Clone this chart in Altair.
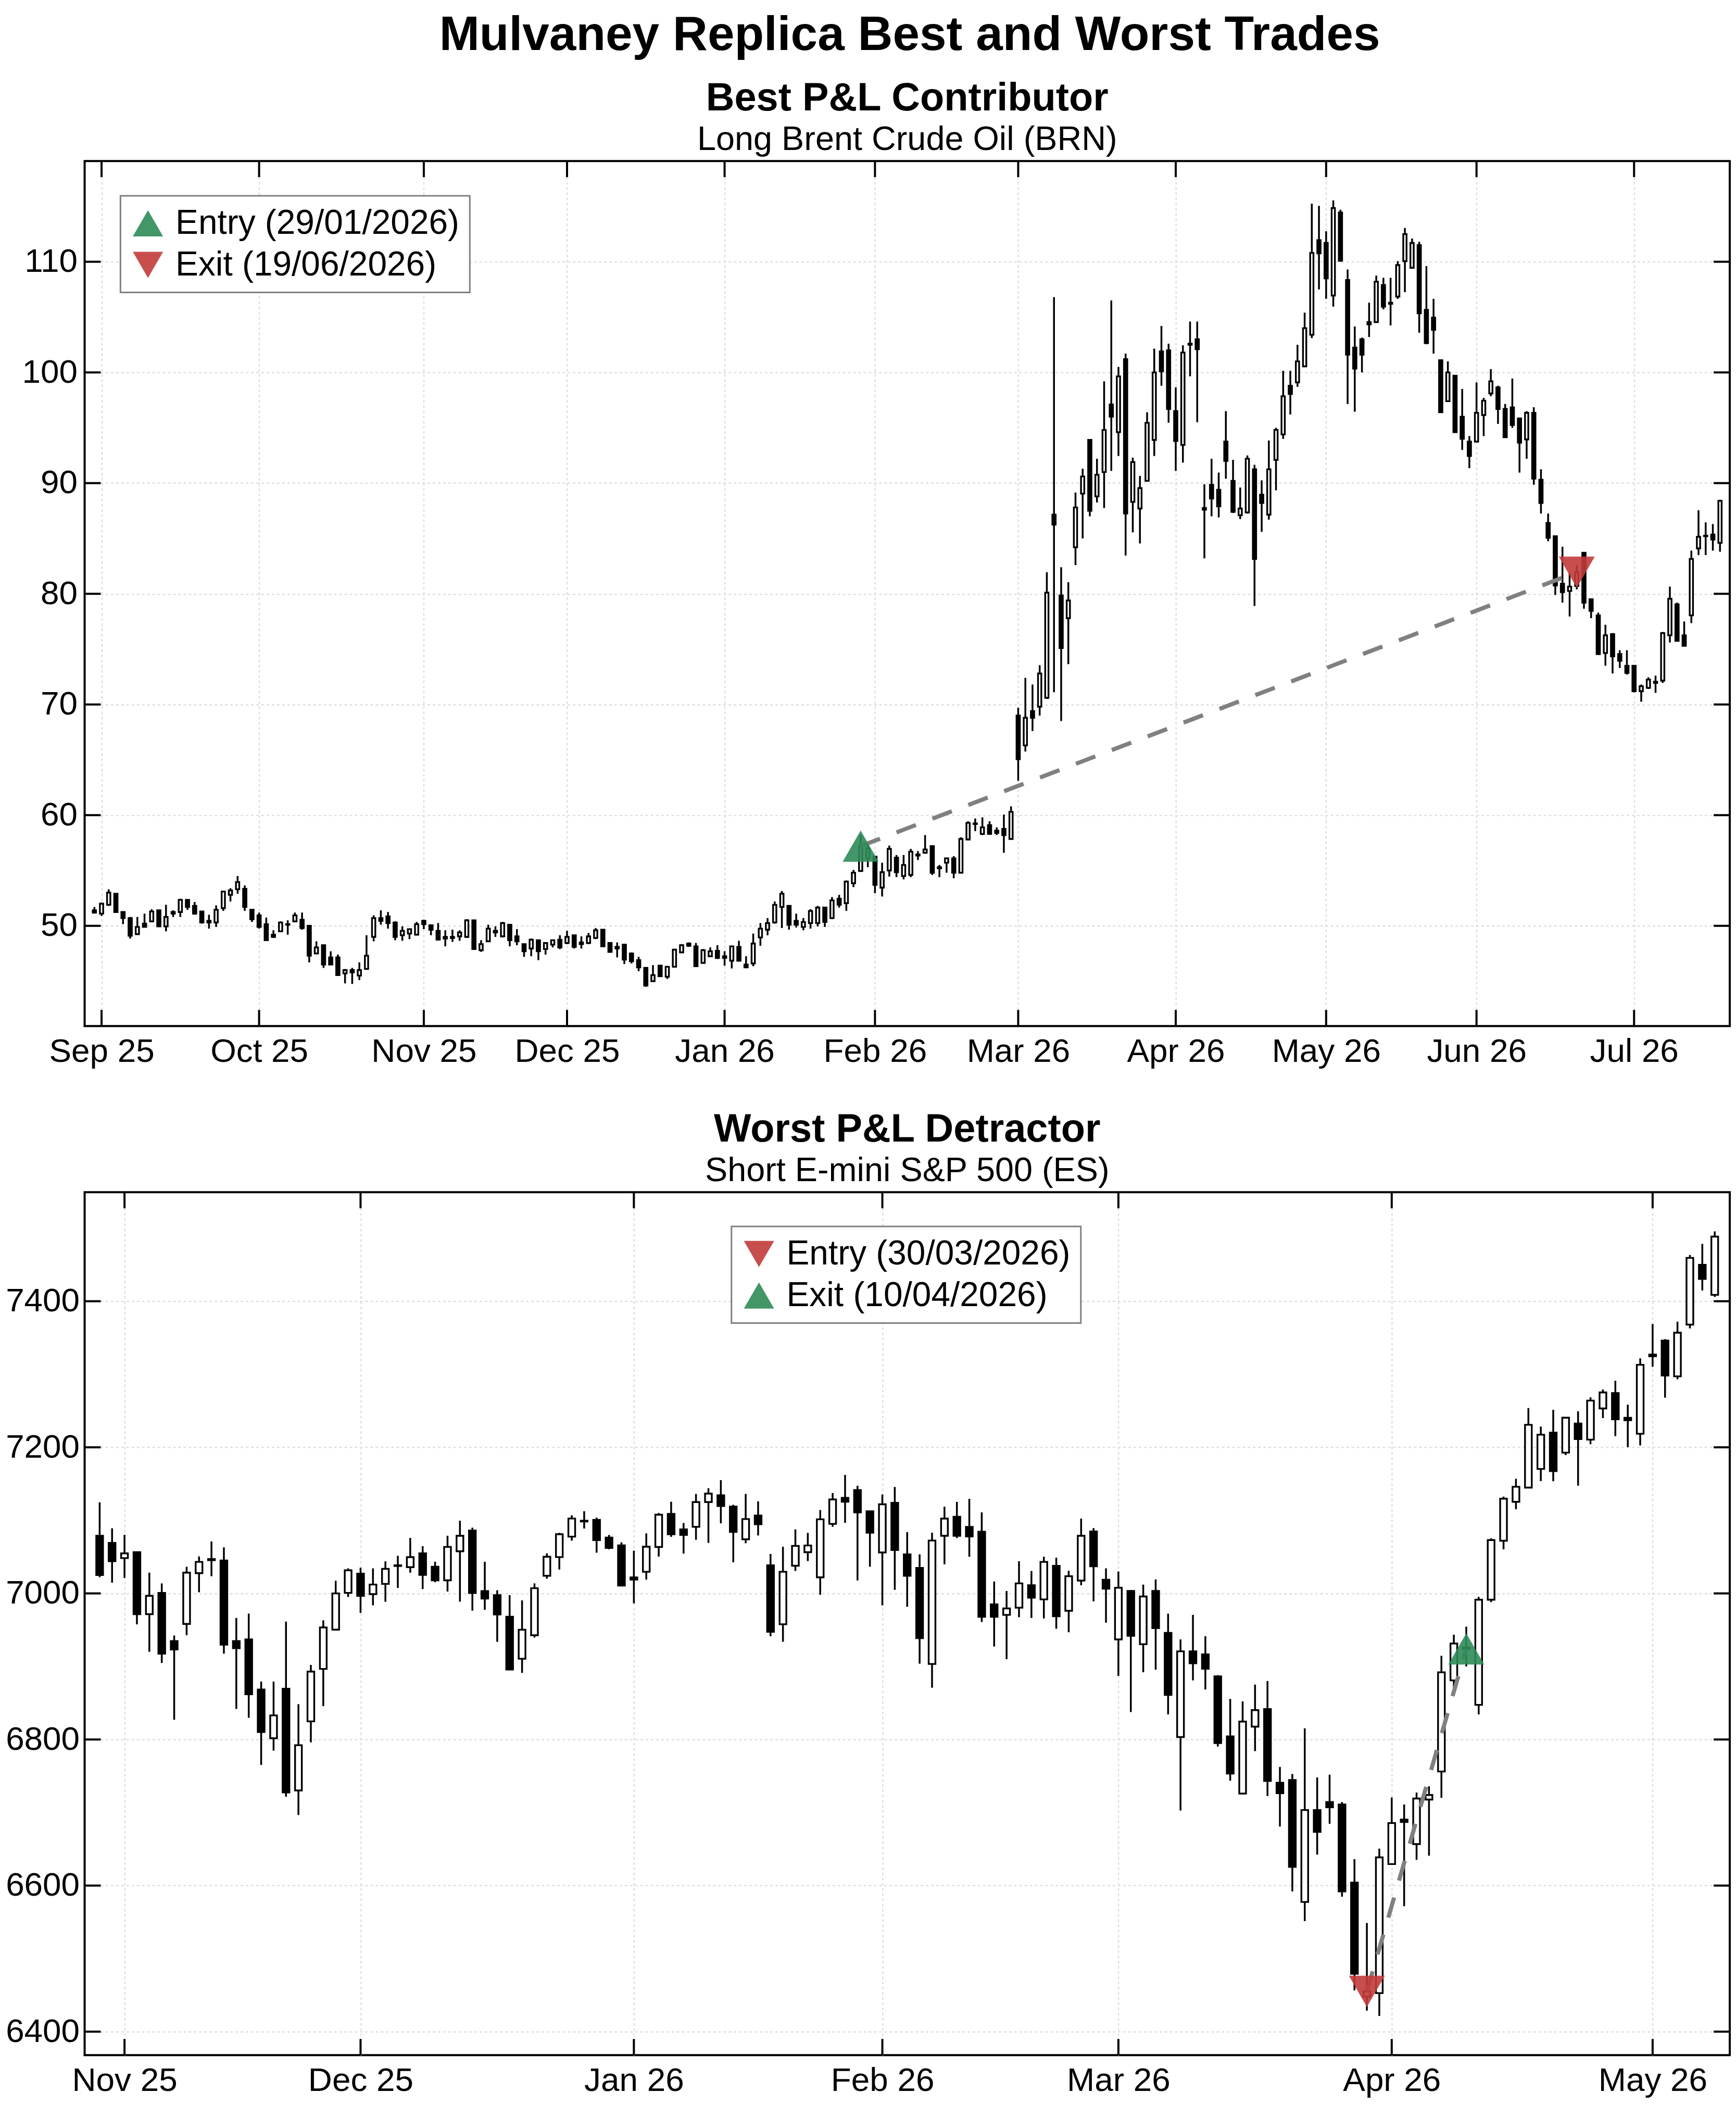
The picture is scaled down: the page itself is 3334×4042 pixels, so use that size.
import altair as alt
import pandas as pd

FONT = "Liberation Sans"

# ---------------- Brent (top panel) ----------------
brn_start, brn_end = "2025-08-29", "2026-07-17"
brn_holidays = ["2025-12-25", "2026-01-01", "2026-04-03"]
brn_entry_date, brn_exit_date = "2026-01-29", "2026-06-19"
brn_yticks = [50, 60, 70, 80, 90, 100, 110]

brn_open = [
    51.4, 51.1, 51.9, 52.9, 51.25, 50.7, 49.25, 50.2, 50.4, 51.4,
    49.95, 51.25, 51.25, 52.35, 51.8, 51.3, 50.45, 50.3, 51.6, 52.8,
    53.3, 53.35, 51.45, 50.95, 50.15, 49.2, 49.5, 50.15, 50.4, 50.55,
    50.0, 47.5, 48.25, 47.15, 47.15, 45.7, 46.0, 45.5, 46.1, 49.0,
    50.7, 50.85, 50.3, 49.15, 49.3, 49.2, 50.45, 50.05, 49.55, 49.0,
    49.0, 49.05, 49.0, 50.5, 47.8, 48.6, 49.55, 49.05, 50.1, 49.05,
    48.35, 47.95, 48.7, 47.9, 48.3, 48.75, 48.45, 49.15, 48.5, 48.45,
    48.9, 49.65, 48.45, 48.1, 48.3, 47.5, 46.9, 46.2, 45.0, 46.4,
    45.4, 46.3, 47.6, 48.4, 48.15, 46.65, 47.25, 47.75, 47.25, 46.85,
    48.1, 46.5, 46.6, 48.95, 49.65, 50.3, 51.7, 51.8, 50.45, 49.9,
    50.25, 50.25, 51.65, 50.7, 52.45, 52.05, 53.85, 54.95, 56.1, 56.25,
    53.45, 55.0, 56.15, 54.5, 54.6, 56.45, 56.6, 57.2, 55.3, 55.7,
    56.1, 54.8, 57.8, 59.25, 58.3, 59.1, 58.6, 58.75, 57.85, 69.0,
    66.3, 69.4, 69.8, 70.6, 87.15, 79.85, 77.8, 84.2, 89.05, 93.9,
    88.8, 91.0, 97.1, 94.6, 101.2, 88.3, 87.7, 90.2, 93.9, 101.9,
    102.0, 96.5, 93.45, 102.6, 103.0, 87.75, 89.85, 89.4, 93.75, 90.2,
    87.1, 87.35, 91.25, 88.95, 87.15, 92.1, 94.4, 98.8, 99.1, 100.55,
    103.4, 111.95, 111.7, 106.95, 114.45, 108.35, 102.25, 103.0, 104.55, 104.55,
    107.9, 106.3, 106.85, 110.05, 109.45, 111.5, 105.65, 104.95, 101.1, 97.4,
    99.7, 96.0, 93.75, 93.75, 96.15, 98.1, 98.65, 96.7, 96.85, 95.85,
    93.95, 96.35, 90.3, 86.4, 85.2, 80.9, 80.25, 80.7, 83.7, 79.5,
    78.05, 74.65, 76.35, 74.55, 73.5, 73.5, 71.2, 71.5, 72.05, 72.15,
    76.25, 79.05, 76.25, 78.05, 84.1, 85.25, 85.35, 84.6,
]
brn_high = [
    51.7, 52.1, 53.3, 52.95, 51.25, 50.8, 50.8, 51.1, 51.5, 51.4,
    51.9, 51.4, 52.45, 52.35, 52.15, 51.3, 51.0, 51.85, 53.15, 53.4,
    54.5, 53.65, 51.45, 51.2, 50.75, 49.6, 50.4, 50.5, 51.2, 51.2,
    50.0, 48.6, 48.25, 47.7, 47.4, 46.1, 46.2, 46.7, 49.15, 50.95,
    51.4, 51.25, 50.4, 49.95, 49.7, 50.35, 50.55, 50.1, 50.25, 49.6,
    49.65, 49.6, 50.6, 50.5, 48.7, 50.1, 49.95, 50.35, 50.1, 49.7,
    48.35, 48.85, 48.7, 48.5, 48.7, 49.15, 49.55, 49.15, 49.05, 49.35,
    49.8, 49.65, 48.5, 48.5, 48.35, 47.6, 47.2, 46.2, 46.45, 46.4,
    46.35, 47.9, 48.35, 48.5, 48.45, 47.9, 48.05, 48.25, 47.7, 48.15,
    48.65, 47.25, 49.3, 50.25, 50.7, 52.2, 53.15, 51.8, 51.1, 50.7,
    51.5, 51.8, 51.65, 52.6, 52.8, 54.1, 55.05, 58.2, 57.6, 56.25,
    55.7, 57.25, 56.4, 56.4, 56.95, 56.75, 58.2, 57.2, 55.5, 56.1,
    56.3, 58.0, 59.45, 59.7, 59.8, 59.45, 58.9, 60.05, 60.8, 69.7,
    72.4, 71.8, 73.55, 81.95, 106.8, 82.4, 81.05, 89.15, 91.3, 93.9,
    92.2, 99.2, 106.5, 100.5, 101.7, 92.3, 90.65, 96.4, 102.15, 104.2,
    102.6, 98.65, 102.45, 104.6, 104.6, 89.9, 92.2, 90.95, 96.5, 92.1,
    89.6, 92.5, 91.65, 90.25, 93.85, 95.0, 100.15, 100.15, 102.5, 105.4,
    115.25, 115.05, 112.75, 115.55, 114.7, 109.3, 104.15, 103.15, 106.3, 108.75,
    108.55, 108.55, 110.05, 113.05, 112.1, 111.8, 109.6, 106.65, 101.1, 101.0,
    99.7, 98.5, 94.25, 99.1, 97.7, 100.3, 98.8, 97.15, 99.45, 95.85,
    96.5, 96.85, 91.25, 87.25, 85.2, 84.25, 81.9, 82.6, 83.7, 79.5,
    78.3, 77.2, 76.45, 74.9, 74.9, 73.5, 71.8, 72.45, 72.6, 76.55,
    80.65, 79.2, 77.5, 83.9, 87.55, 86.45, 86.3, 88.5,
]
brn_low = [
    51.1, 50.9, 51.8, 51.2, 50.15, 48.85, 49.25, 49.9, 50.4, 49.9,
    49.5, 50.8, 50.8, 51.45, 51.0, 50.2, 49.75, 49.9, 51.35, 52.2,
    52.9, 51.35, 50.35, 49.75, 48.7, 48.9, 49.5, 49.2, 50.4, 49.65,
    46.7, 47.5, 46.2, 46.5, 45.55, 44.8, 44.75, 45.1, 46.1, 48.6,
    50.1, 49.75, 48.7, 48.65, 48.8, 49.15, 49.7, 49.15, 48.75, 48.15,
    48.55, 48.65, 48.9, 47.9, 47.65, 48.6, 49.0, 48.95, 48.15, 48.25,
    47.2, 47.25, 46.9, 47.4, 48.05, 47.9, 48.35, 47.95, 47.95, 48.35,
    48.8, 48.1, 47.65, 47.15, 46.55, 46.6, 45.9, 44.5, 44.95, 45.4,
    45.2, 46.3, 47.55, 48.1, 46.3, 46.6, 47.2, 47.0, 46.4, 46.15,
    46.8, 46.2, 46.35, 48.2, 49.15, 50.2, 49.8, 49.65, 49.85, 49.6,
    49.75, 49.95, 49.9, 50.6, 51.65, 51.35, 53.5, 54.95, 55.3, 52.95,
    52.65, 54.45, 54.4, 54.2, 54.4, 55.95, 56.6, 54.6, 54.4, 54.8,
    54.3, 54.8, 57.8, 58.55, 58.2, 58.3, 58.2, 56.6, 57.85, 63.1,
    65.75, 67.6, 69.0, 70.5, 71.1, 68.5, 73.65, 82.6, 85.0, 87.0,
    88.25, 87.75, 91.1, 92.45, 83.45, 85.55, 84.55, 90.2, 92.45, 98.8,
    95.45, 91.1, 91.85, 99.65, 95.5, 83.2, 87.0, 86.9, 90.4, 87.3,
    86.75, 87.25, 78.9, 85.6, 86.7, 89.35, 94.0, 96.2, 98.7, 100.55,
    103.1, 107.5, 106.65, 105.95, 110.0, 97.15, 96.45, 100.0, 103.2, 104.55,
    105.7, 104.25, 106.65, 107.25, 109.45, 103.6, 102.55, 101.7, 96.4, 97.4,
    94.6, 93.0, 91.35, 93.7, 94.25, 97.85, 95.35, 94.1, 95.0, 90.95,
    92.2, 89.85, 87.25, 84.75, 79.9, 79.2, 77.95, 80.4, 78.65, 77.8,
    74.5, 73.5, 72.8, 73.3, 72.7, 71.1, 70.25, 71.4, 71.05, 71.95,
    75.6, 75.7, 75.3, 77.35, 83.5, 83.5, 83.9, 83.8,
]
brn_close = [
    51.2, 52.0, 53.0, 51.25, 50.7, 49.1, 49.9, 49.9, 51.3, 49.95,
    50.8, 51.1, 52.35, 51.7, 51.1, 50.3, 50.3, 51.45, 53.1, 53.2,
    53.95, 51.7, 50.6, 49.9, 48.7, 49.0, 50.3, 50.1, 50.95, 49.8,
    47.3, 48.05, 46.5, 46.5, 45.55, 46.0, 45.8, 46.0, 47.3, 50.7,
    50.45, 50.25, 49.0, 49.55, 49.7, 50.15, 50.15, 49.65, 48.75, 48.85,
    48.9, 49.4, 50.5, 47.9, 48.35, 49.75, 49.4, 50.25, 48.7, 48.6,
    47.7, 48.75, 47.7, 48.45, 48.7, 48.05, 49.0, 48.1, 48.35, 49.05,
    49.6, 48.15, 47.65, 47.95, 46.95, 46.8, 46.25, 44.6, 45.55, 45.45,
    46.3, 47.85, 48.25, 48.2, 46.35, 47.8, 47.7, 47.1, 47.1, 48.15,
    46.85, 46.25, 48.4, 49.75, 50.25, 51.9, 52.9, 50.1, 50.1, 50.35,
    51.35, 51.65, 50.35, 52.3, 51.9, 54.0, 54.8, 57.2, 57.0, 53.7,
    54.85, 56.95, 54.85, 55.5, 56.7, 56.35, 56.9, 54.8, 55.2, 56.1,
    54.8, 57.85, 59.3, 59.2, 58.9, 58.3, 58.4, 58.2, 60.3, 65.05,
    68.8, 68.8, 72.8, 80.1, 86.25, 75.1, 79.4, 87.8, 90.6, 87.5,
    90.75, 94.8, 96.0, 99.65, 87.25, 91.9, 89.55, 95.45, 100.0, 100.1,
    96.7, 93.8, 101.8, 102.5, 102.1, 87.6, 88.6, 87.9, 92.0, 87.4,
    87.7, 92.2, 83.15, 88.2, 91.25, 94.8, 97.85, 98.05, 101.0, 104.0,
    110.8, 110.75, 108.5, 114.85, 110.1, 101.6, 100.35, 101.6, 104.35, 108.2,
    105.95, 106.2, 109.7, 112.5, 111.7, 105.35, 102.65, 103.85, 96.4, 100.0,
    94.6, 94.0, 92.45, 96.35, 97.45, 99.2, 96.7, 94.15, 95.25, 93.65,
    96.35, 90.4, 88.2, 85.05, 80.75, 80.15, 80.65, 81.95, 79.2, 78.45,
    74.55, 76.25, 74.35, 73.95, 72.85, 71.2, 71.65, 72.25, 71.95, 76.45,
    79.55, 75.75, 75.3, 83.15, 85.15, 85.2, 84.9, 88.4,
]

# ---------------- E-mini S&P 500 (bottom panel) ----------------
es_start, es_end = "2025-10-30", "2026-05-08"
es_holidays = ["2025-11-27", "2025-12-25", "2026-01-01", "2026-01-19", "2026-02-16", "2026-04-03"]
es_entry_date, es_exit_date = "2026-03-30", "2026-04-10"
es_yticks = [6400, 6600, 6800, 7000, 7200, 7400]

es_open = [
    7078.9, 7069.2, 7048.3, 7056.4, 6971.6, 7000.7, 6934.8, 6958.2, 7027.7, 7047.0,
    7045.0, 6934.8, 6937.0, 6868.5, 6801.7, 6869.5, 6730.2, 6824.8, 6896.6, 6950.4,
    7000.7, 7027.1, 6999.0, 7013.0, 7038.5, 7035.9, 7054.8, 7036.5, 7017.9, 7057.7,
    7086.0, 7003.1, 6997.6, 6968.0, 6910.5, 6942.7, 7024.2, 7049.7, 7077.7, 7099.5,
    7100.7, 7076.5, 7065.8, 7021.8, 7029.6, 7063.5, 7108.9, 7087.6, 7091.2, 7125.0,
    7134.3, 7118.9, 7074.1, 7106.6, 7038.4, 6957.8, 7037.9, 7056.4, 7022.0, 7095.2,
    7130.7, 7141.5, 7112.5, 7056.1, 7124.0, 7053.5, 7034.9, 6903.4, 7078.9, 7105.0,
    7091.0, 7084.5, 6985.0, 6970.6, 6980.4, 7011.1, 6991.8, 7037.8, 6976.2, 7017.6,
    7084.8, 7018.6, 6937.0, 7003.3, 6930.5, 7003.3, 6945.9, 6803.3, 6920.7, 6916.5,
    6886.5, 6804.3, 6726.0, 6817.6, 6841.6, 6740.8, 6744.6, 6577.6, 6703.4, 6714.4,
    6711.0, 6604.0, 6448.0, 6452.8, 6629.4, 6690.4, 6656.8, 6717.8, 6756.2, 6880.9,
    6926.0, 6847.4, 6991.4, 7072.1, 7125.4, 7144.8, 7170.4, 7220.1, 7192.7, 7232.5,
    7210.5, 7253.2, 7274.3, 7240.4, 7218.5, 7327.0, 7346.1, 7297.1, 7368.0, 7449.8,
    7408.7,
]
es_high = [
    7124.6, 7089.1, 7080.2, 7056.4, 7028.4, 7013.7, 6942.3, 7036.5, 7050.6, 7071.1,
    7063.0, 6966.4, 6972.3, 6879.3, 6879.3, 6961.5, 6848.3, 6902.1, 6963.1, 7017.3,
    7034.3, 7035.2, 7034.3, 7044.0, 7051.5, 7076.0, 7064.6, 7043.4, 7078.9, 7099.5,
    7090.0, 7043.3, 7004.3, 6997.6, 6990.5, 7013.7, 7054.9, 7082.9, 7107.0, 7112.5,
    7103.7, 7080.0, 7069.9, 7058.5, 7082.2, 7110.1, 7125.5, 7096.4, 7136.2, 7144.0,
    7155.1, 7121.3, 7136.2, 7126.0, 7054.0, 7063.9, 7087.6, 7082.9, 7114.1, 7137.4,
    7162.2, 7147.4, 7113.2, 7135.4, 7145.8, 7083.8, 7053.5, 7083.2, 7118.7, 7125.3,
    7129.5, 7110.9, 7016.3, 7003.3, 7044.0, 7030.7, 7050.2, 7048.9, 7031.0, 7102.4,
    7089.4, 7034.3, 7030.0, 7004.6, 7012.1, 7019.2, 6972.3, 6937.0, 6970.6, 6941.3,
    6888.1, 6855.5, 6852.2, 6875.2, 6880.0, 6762.4, 6752.8, 6815.2, 6748.0, 6751.8,
    6714.4, 6636.2, 6548.8, 6650.6, 6720.6, 6711.0, 6727.4, 6736.0, 6914.6, 6943.4,
    6954.4, 6995.2, 7075.4, 7132.5, 7156.9, 7253.8, 7228.4, 7251.3, 7240.5, 7249.2,
    7268.4, 7279.1, 7291.1, 7258.4, 7321.8, 7368.8, 7348.1, 7372.0, 7463.3, 7478.5,
    7495.6,
]
es_low = [
    7022.2, 7014.7, 7021.2, 6957.6, 6920.1, 6904.7, 6827.1, 6942.9, 7001.6, 7023.5,
    6917.5, 6841.8, 6829.7, 6765.1, 6784.7, 6721.7, 6696.6, 6796.1, 6845.7, 6949.4,
    6995.1, 6973.3, 6983.7, 6988.6, 7007.5, 7028.4, 7005.9, 7015.3, 7002.6, 6988.6,
    6976.4, 6977.5, 6933.7, 6895.3, 6891.1, 6939.6, 7020.1, 7032.7, 7072.2, 7088.8,
    7055.7, 7060.4, 7010.0, 6986.3, 7018.9, 7050.4, 7077.4, 7054.5, 7073.4, 7069.2,
    7095.9, 7042.6, 7068.7, 7079.3, 6941.3, 6933.7, 7030.8, 7044.3, 6998.1, 7091.2,
    7096.6, 7017.7, 7036.5, 6983.7, 7004.9, 6981.7, 6903.8, 6870.8, 7039.8, 7075.7,
    7050.2, 6960.9, 6927.3, 6910.0, 6967.4, 6966.4, 6965.7, 6951.7, 6946.8, 7011.1,
    6989.2, 6959.9, 6887.1, 6837.6, 6892.0, 6895.6, 6834.3, 6702.8, 6880.9, 6868.5,
    6790.3, 6743.6, 6726.0, 6784.0, 6722.6, 6680.8, 6592.0, 6551.2, 6642.4, 6684.6,
    6584.8, 6456.6, 6428.8, 6421.6, 6629.4, 6571.8, 6635.2, 6640.9, 6720.2, 6865.6,
    6900.0, 6834.4, 6988.0, 7060.3, 7115.2, 7143.9, 7153.8, 7153.6, 7189.4, 7147.5,
    7204.2, 7240.0, 7215.3, 7200.2, 7202.6, 7310.2, 7268.0, 7293.1, 7362.8, 7414.7,
    7405.9,
]
es_close = [
    7025.1, 7044.0, 7054.8, 6971.6, 6996.7, 6917.5, 6923.3, 7028.4, 7043.1, 7045.5,
    6929.9, 6925.0, 6862.0, 6810.2, 6833.0, 6727.6, 6792.2, 6893.0, 6953.4, 7000.0,
    7031.6, 6996.7, 7012.1, 7033.6, 7037.5, 7049.6, 7025.4, 7017.9, 7063.6, 7078.9,
    7000.6, 6992.9, 6971.1, 6895.8, 6950.3, 7007.1, 7050.2, 7081.0, 7102.5, 7098.5,
    7072.9, 7062.3, 7010.7, 7018.9, 7063.9, 7107.8, 7081.0, 7080.0, 7125.0, 7136.6,
    7119.6, 7084.1, 7101.8, 7094.7, 6947.4, 7029.6, 7065.1, 7065.6, 7101.4, 7128.6,
    7125.5, 7111.0, 7083.2, 7122.0, 7059.4, 7024.1, 6938.7, 7072.4, 7102.4, 7078.9,
    7078.0, 6968.0, 6968.0, 6979.4, 7013.7, 6994.1, 7043.1, 6968.7, 7023.5, 7078.9,
    7037.2, 7006.5, 7007.8, 6941.9, 6995.8, 6952.4, 6861.0, 6920.7, 6904.4, 6896.9,
    6795.1, 6753.4, 6824.5, 6840.2, 6743.2, 6726.4, 6625.6, 6703.4, 6673.6, 6707.2,
    6592.0, 6479.2, 6455.2, 6638.6, 6685.6, 6687.0, 6719.2, 6724.0, 6892.0, 6931.4,
    6924.0, 6991.4, 7073.0, 7129.7, 7146.0, 7230.8, 7217.3, 7167.4, 7240.5, 7211.3,
    7264.0, 7275.1, 7238.4, 7237.2, 7313.0, 7324.6, 7298.3, 7356.9, 7459.3, 7430.6,
    7488.5,
]

GREEN = "#2e8b57"
RED = "#c23b3b"
PLOT_W = 3169
TICK_LEN = 31


def panel(start, end, holidays, o, h, l, c, entry_date, exit_date,
          entry_style, exit_style, yticks, title, subtitle, height,
          body_w, legend_xy, ylabel_pad):
    dates = pd.bdate_range(start=start, end=end, freq="C", holidays=holidays)
    n = len(dates)
    df = pd.DataFrame({"idx": list(range(n)), "o": o, "h": h, "l": l, "c": c})
    lo, hi = min(l), max(h)
    pad = (hi - lo) * 0.05
    ys = alt.Scale(domain=[lo - pad, hi + pad], nice=False, zero=False)
    xs = alt.Scale(domain=[-1, n], nice=False, zero=False)

    ticks = [k for k in range(1, n) if dates[k].month != dates[k - 1].month]
    labels = [dates[k].strftime("%b %y") for k in ticks]
    expr = "".join(f"datum.value == {k} ? '{lab}' : " for k, lab in zip(ticks, labels)) + "''"

    xaxis = alt.Axis(values=ticks, labelExpr=expr, title=None, grid=True, ticks=False,
                     tickSize=0, domain=False, labelPadding=18, labelFlush=False,
                     labelLimit=2000, labelOverlap=False)
    yaxis = alt.Axis(values=yticks, format="d", title=None, grid=True, ticks=False,
                     tickSize=0, domain=False, labelPadding=ylabel_pad, labelLimit=2000)

    def X(f):
        return alt.X(f"{f}:Q", scale=xs, axis=xaxis)

    def Y(f):
        return alt.Y(f"{f}:Q", scale=ys, axis=yaxis)

    wick = alt.Chart(df).mark_rule(color="black", strokeWidth=3.5).encode(
        x=X("idx"), y=Y("l"), y2=alt.Y2("h"))
    body = alt.Chart(df).mark_bar(width=body_w, stroke="black", strokeWidth=3.4).encode(
        x=X("idx"), y=Y("o"), y2=alt.Y2("c"),
        fill=alt.condition("datum.c >= datum.o", alt.value("white"), alt.value("black")))

    ie = dates.get_loc(pd.Timestamp(entry_date))
    ix = dates.get_loc(pd.Timestamp(exit_date))
    lab_e = f"Entry ({pd.Timestamp(entry_date):%d/%m/%Y})"
    lab_x = f"Exit ({pd.Timestamp(exit_date):%d/%m/%Y})"
    trade = pd.DataFrame({"idx": [ie, ix], "price": [c[ie], c[ix]], "label": [lab_e, lab_x]})

    line = alt.Chart(trade).mark_line(color="#808080", strokeWidth=8, strokeDash=[40, 34]).encode(
        x=X("idx"), y=Y("price"), order="idx:Q")
    leg = alt.Legend(title=None, orient="none", legendX=legend_xy[0], legendY=legend_xy[1],
                     labelFontSize=66, labelFont=FONT, labelColor="black", labelLimit=3000,
                     symbolSize=3400, symbolStrokeWidth=0, strokeColor="#808080",
                     fillColor="white", padding=20, rowPadding=14, labelOffset=20,
                     cornerRadius=0)
    pts = alt.Chart(trade).mark_point(filled=True, size=4800, opacity=0.9, strokeWidth=0).encode(
        x=X("idx"), y=Y("price"),
        color=alt.Color("label:N", scale=alt.Scale(domain=[lab_e, lab_x],
                                                   range=[entry_style[1], exit_style[1]]), legend=leg),
        shape=alt.Shape("label:N", scale=alt.Scale(domain=[lab_e, lab_x],
                                                   range=[entry_style[0], exit_style[0]]), legend=leg))

    tdf = pd.DataFrame({"t": ticks})
    vdf = pd.DataFrame({"v": yticks})
    tick_b = alt.Chart(tdf).mark_rule(color="black", strokeWidth=4).encode(
        x=X("t"), y=alt.value(height), y2=alt.value(height - TICK_LEN))
    tick_t = alt.Chart(tdf).mark_rule(color="black", strokeWidth=4).encode(
        x=X("t"), y=alt.value(0), y2=alt.value(TICK_LEN))
    tick_l = alt.Chart(vdf).mark_rule(color="black", strokeWidth=4).encode(
        y=Y("v"), x=alt.value(0), x2=alt.value(TICK_LEN))
    tick_r = alt.Chart(vdf).mark_rule(color="black", strokeWidth=4).encode(
        y=Y("v"), x=alt.value(PLOT_W), x2=alt.value(PLOT_W - TICK_LEN))

    return alt.layer(wick, body, line, pts, tick_b, tick_t, tick_l, tick_r).properties(
        width=PLOT_W, height=height,
        title=alt.Title(title, subtitle=subtitle, font=FONT, fontSize=76, fontWeight="bold",
                        color="black", subtitleFont=FONT, subtitleFontSize=65,
                        subtitleFontWeight="normal", subtitleColor="black",
                        anchor="middle", frame="group", offset=5, subtitlePadding=9))


top = panel(brn_start, brn_end, brn_holidays, brn_open, brn_high, brn_low, brn_close,
            brn_entry_date, brn_exit_date, ("triangle-up", GREEN), ("triangle-down", RED),
            brn_yticks, "Best P&L Contributor", "Long Brent Crude Oil (BRN)", 1666, 6.3,
            (69, 67), 14)
bottom = panel(es_start, es_end, es_holidays, es_open, es_high, es_low, es_close,
               es_entry_date, es_exit_date, ("triangle-down", RED), ("triangle-up", GREEN),
               es_yticks, "Worst P&L Detractor", "Short E-mini S&P 500 (ES)", 1662, 13,
               (1246, 66), 10)

chart = alt.vconcat(
    top, bottom, spacing=76,
    title=alt.Title("Mulvaney Replica Best and Worst Trades", font=FONT, fontSize=93,
                    fontWeight="bold", color="black", anchor="middle", dx=80, offset=34),
).resolve_scale(
    x="independent", y="independent", color="independent", shape="independent"
).properties(
    padding={"top": 8, "left": 0, "right": 0, "bottom": 0}, background="white"
).configure(
    font=FONT
).configure_view(
    stroke="black", strokeWidth=4
).configure_axis(
    labelFont=FONT, labelFontSize=64, labelColor="black",
    gridColor="#dedede", gridDash=[5, 5], gridWidth=2.5
).configure_legend(
    strokeWidth=3
)

chart.save("out.html", embed_options={"renderer": "svg", "actions": False})
